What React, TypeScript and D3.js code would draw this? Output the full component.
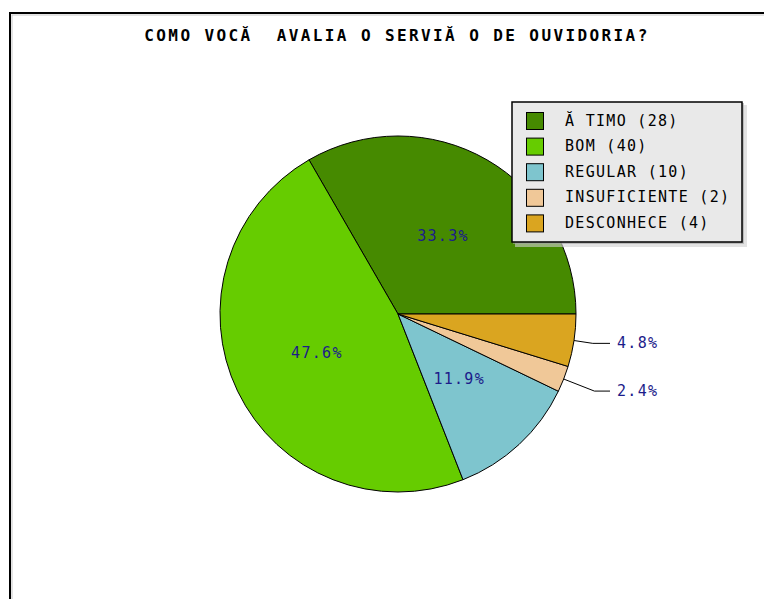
import React from "react";
import * as d3 from "d3";

const title = "COMO VOCĂ  AVALIA O SERVIĂ O DE OUVIDORIA?";
const categories = ["Ă TIMO", "BOM", "REGULAR", "INSUFICIENTE", "DESCONHECE"];
const values = [28, 40, 10, 2, 4];
const colors = ["#468a00", "#66cc00", "#7ec5ce", "#f0c898", "#daa520"];

const W = 764;
const H = 599;
const cx = 398;
const cy = 314;
const R = 178;
const FONT = "'DejaVu Sans Mono', 'Liberation Mono', monospace";

export default function App() {
  const total = d3.sum(values);
  const pie = d3
    .pie<number>()
    .sort(null)
    .startAngle(Math.PI / 2)
    .endAngle(Math.PI / 2 - 2 * Math.PI);
  const arcs = pie(values);
  const arcGen = d3.arc<d3.PieArcDatum<number>>().innerRadius(0).outerRadius(R);
  const leaderExt: Record<number, number> = { 4: 19, 3: 33 };

  return (
    <svg
      width={W}
      height={H}
      style={{ position: "absolute", left: 0, top: 0, background: "#fff" }}
    >
      <rect x={10} y={13} width={900} height={800} fill="#fff" stroke="#000" strokeWidth={2} />
      <rect x={12} y={15} width={900} height={800} fill="none" stroke="#c8c8c8" strokeWidth={1} />

      <text
        x={397}
        y={36}
        textAnchor="middle"
        dominantBaseline="middle"
        fontFamily={FONT}
        fontWeight="bold"
        fontSize={16}
        letterSpacing={2.4}
        fill="#000"
        style={{ whiteSpace: "pre" }}
      >
        {title}
      </text>

      <g transform={`translate(${cx},${cy})`}>
        {arcs.map((a, i) => (
          <path key={i} d={arcGen(a) || ""} fill={colors[i]} stroke="#000" strokeWidth={1} />
        ))}
        {arcs.map((a, i) => {
          const pct = ((values[i] / total) * 100).toFixed(1) + "%";
          const mid = (a.startAngle + a.endAngle) / 2;
          const sx = Math.sin(mid);
          const sy = -Math.cos(mid);
          if (values[i] / total > 0.08) {
            const r = 90;
            return (
              <text
                key={"l" + i}
                x={sx * r}
                y={sy * r}
                textAnchor="middle"
                dominantBaseline="middle"
                fontFamily={FONT}
                fontSize={15}
                letterSpacing={1.3}
                fill="#1c1c8a"
              >
                {pct}
              </text>
            );
          }
          const ext = leaderExt[i] ?? 16;
          const p0 = [sx * R, sy * R];
          const p1 = [sx * (R + ext), sy * (R + ext)];
          const p2 = [212, p1[1]];
          return (
            <g key={"l" + i}>
              <polyline
                points={`${p0[0]},${p0[1]} ${p1[0]},${p1[1]} ${p2[0]},${p2[1]}`}
                fill="none"
                stroke="#000"
                strokeWidth={1}
              />
              <text
                x={219}
                y={p1[1]}
                dominantBaseline="middle"
                fontFamily={FONT}
                fontSize={15}
                letterSpacing={1.3}
                fill="#1c1c8a"
              >
                {pct}
              </text>
            </g>
          );
        })}
      </g>

      <g>
        <rect x={515} y={105} width={232} height={142} fill="#d0d0d0" opacity={0.6} />
        <rect x={513} y={103} width={231} height={141} fill="#a0a0a0" opacity={0.6} />
        <rect x={512} y={102} width={230} height={140} fill="#e9e9e9" stroke="#000" strokeWidth={1.5} />
        {categories.map((c, i) => {
          const y = 121 + i * 25.6;
          return (
            <g key={c}>
              <rect x={526.5} y={y - 8.5} width={17} height={17} fill={colors[i]} stroke="#000" strokeWidth={1} />
              <text
                x={565}
                y={y}
                dominantBaseline="middle"
                fontFamily={FONT}
                fontSize={15}
                letterSpacing={1.3}
                fill="#000"
                style={{ whiteSpace: "pre" }}
              >
                {`${c} (${values[i]})`}
              </text>
            </g>
          );
        })}
      </g>
    </svg>
  );
}
